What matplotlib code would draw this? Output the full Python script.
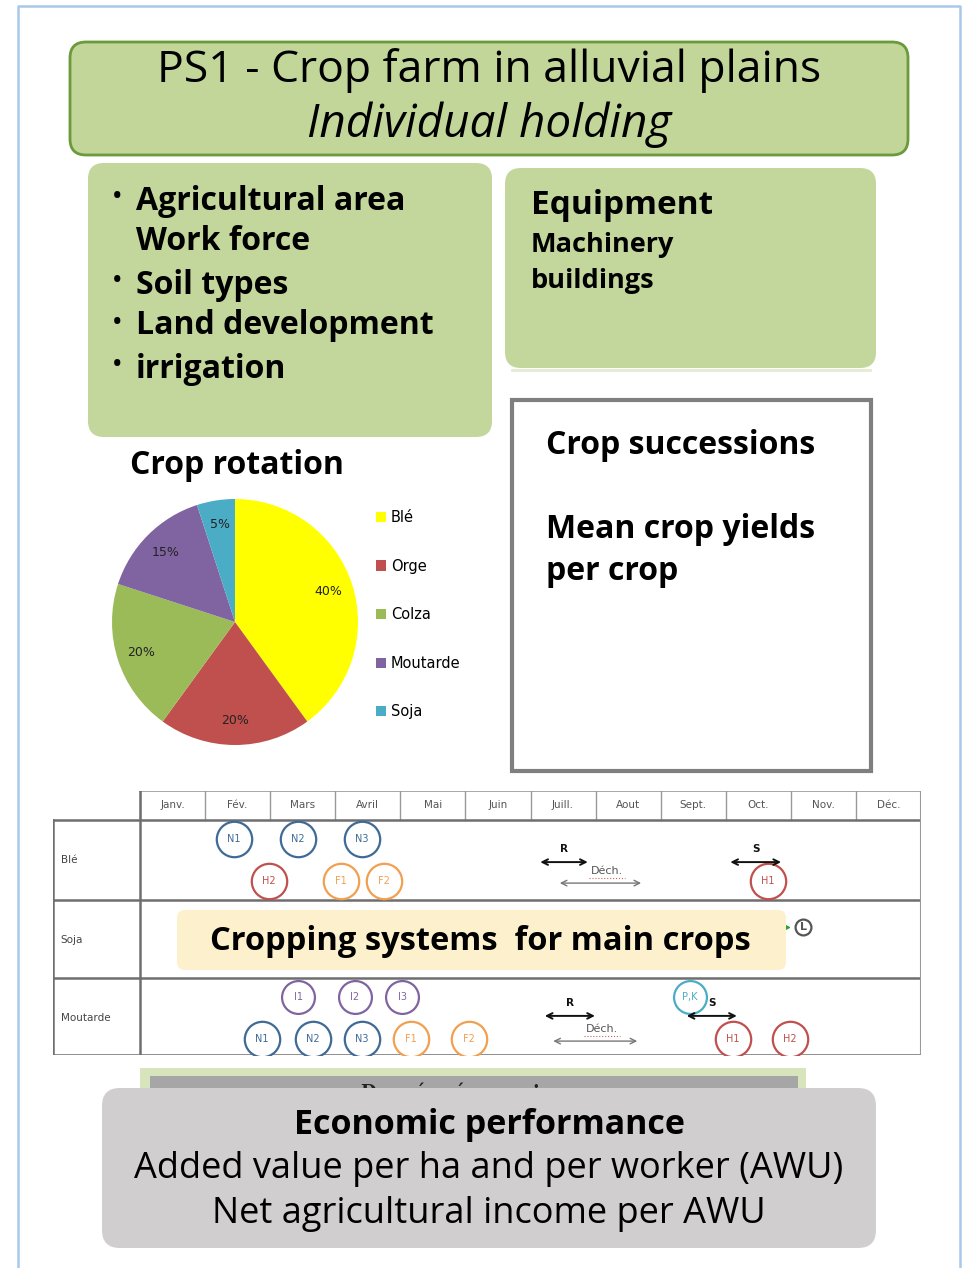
import matplotlib
matplotlib.use("Agg")
import matplotlib.pyplot as plt
from matplotlib.patches import FancyBboxPatch, Rectangle

# data
crops = ['Blé', 'Orge', 'Colza', 'Moutarde', 'Soja']
shares = [40, 20, 20, 15, 5]
crop_colors = ['#ffff00', '#c0504d', '#9bbb59', '#8064a2', '#4bacc6']

months = ['Janv.', 'Fév.', 'Mars', 'Avril', 'Mai', 'Juin',
          'Juill.', 'Aout', 'Sept.', 'Oct.', 'Nov.', 'Déc.']
cal_rows = ['Blé', 'Soja', 'Moutarde']

# operations: label, row, month position, level (0 = upper, 1 = lower), kind
ops_labels = ['N1', 'N2', 'N3', 'H2', 'F1', 'F2', 'H1',
              '', '', '', 'L',
              'I1', 'I2', 'I3', 'N1', 'N2', 'N3', 'F1', 'F2', 'P,K', 'H1', 'H2']
ops_rows = [0, 0, 0, 0, 0, 0, 0,
            1, 1, 1, 1,
            2, 2, 2, 2, 2, 2, 2, 2, 2, 2, 2]
ops_month = [1.44, 2.43, 3.41, 1.98, 3.09, 3.75, 9.65,
             3.30, 4.00, 4.61, 10.19,
             2.43, 3.30, 4.03, 1.87, 2.66, 3.41, 4.16, 5.06, 8.45, 9.11, 9.99]
ops_level = [0, 0, 0, 1, 1, 1, 1,
             0.55, 0.55, 0.55, 0.2,
             0, 0, 0, 1, 1, 1, 1, 1, 0, 1, 1]
ops_kind = ['N', 'N', 'N', 'H', 'F', 'F', 'H',
            'H', 'H', 'H', 'L',
            'I', 'I', 'I', 'N', 'N', 'N', 'F', 'F', 'PK', 'H', 'H']
kind_colors = {'N': '#3f6a96', 'H': '#c0504d', 'F': '#f0a050',
               'I': '#8064a2', 'PK': '#4bacc6', 'L': '#555555'}

# periods: label, row, start month, end month, level
per_labels = ['R', 'Déch.', 'S', 'R', 'Déch.', 'S']
per_rows = [0, 0, 0, 2, 2, 2]
per_start = [6.15, 6.45, 9.07, 6.22, 6.35, 8.40]
per_end = [6.88, 7.70, 9.85, 6.99, 7.64, 9.17]
per_level = [0.55, 1.05, 0.55, 0.45, 1.05, 0.45]

FONT = 'Open Sans'
W, H = 964, 1268
fig = plt.figure(figsize=(W / 100, H / 100), dpi=100)
fig.patch.set_facecolor('white')

ax = fig.add_axes([0, 0, 1, 1], zorder=3)
ax.set_xlim(0, W)
ax.set_ylim(H, 0)
ax.axis('off')
ax.patch.set_visible(False)

def rbox(x0, y0, x1, y1, fc, ec='none', r=14, lw=0, z=1):
    ax.add_patch(FancyBboxPatch((x0, y0), x1 - x0, y1 - y0,
                                boxstyle="round,pad=0,rounding_size=%d" % r,
                                fc=fc, ec=ec, lw=lw, zorder=z))

def txt(x, y, s, size, **kw):
    kw.setdefault('family', FONT)
    ax.text(x, y, s, fontsize=size, va='center', zorder=10, **kw)

# outer frame
ax.plot([18, 18, 960, 960], [1268, 6, 6, 1268], color='#a9c8ea', lw=1.8, zorder=0)

# title
rbox(70, 42, 908, 155, '#c2d69a', '#6b9a3a', r=16, lw=2)
txt(489, 71, 'PS1 - Crop farm in alluvial plains', 32, ha='center')
txt(489, 125, 'Individual holding', 33, ha='center', style='italic')

# left box
rbox(88, 163, 492, 437, '#c3d69b', r=16)
for yy, s, b in [(201, 'Agricultural area', True), (242, 'Work force', False),
                 (285, 'Soil types', True), (326, 'Land development', True),
                 (369, 'irrigation', True)]:
    if b:
        txt(113, yy - 3, '•', 16, weight='bold')
    txt(136, yy, s, 23, weight='bold')

# right box
rbox(505, 168, 876, 368, '#c3d69b', r=16)
ax.plot([512, 870], [370, 370], color='#e3ecd2', lw=2, zorder=1)
txt(531, 206, 'Equipment', 24, weight='bold')
txt(531, 245, 'Machinery', 19.5, weight='bold')
txt(531, 281, 'buildings', 19.5, weight='bold')

# crop successions
ax.add_patch(Rectangle((512, 400), 359, 371, fc='white', ec='#7f7f7f', lw=3, zorder=1))
txt(546, 445, 'Crop successions', 23, weight='bold')
txt(546, 529, 'Mean crop yields', 23, weight='bold')
txt(546, 571, 'per crop', 23, weight='bold')

# crop rotation pie
txt(130, 465, 'Crop rotation', 23, weight='bold')
cx, cy, rad = 235, 622, 123
axp = fig.add_axes([(cx - rad) / W, 1 - (cy + rad) / H, 2 * rad / W, 2 * rad / H], zorder=2)
wedges, _, autotexts = axp.pie(shares, colors=crop_colors, startangle=90, counterclock=False,
                               autopct='%d%%', pctdistance=0.8, radius=1,
                               textprops=dict(fontsize=9, family='DejaVu Sans', color='#222222'))
axp.set_xlim(-1, 1)
axp.set_ylim(-1, 1)
axp.set_aspect('equal')
leg = fig.legend(wedges, crops, loc='upper left', bbox_to_anchor=(363 / W, 1 - 497 / H),
                 frameon=False, labelspacing=2.3, handlelength=0.7,
                 handleheight=0.7, handletextpad=0.3, prop=dict(family='DejaVu Sans', size=10.5))

# calendar
x_left, x_m0, x_right = 53, 140, 921
y_top, y_head, y_bot = 791, 820, 1055
row_top = [820, 900, 978]
mw = (x_right - x_m0) / 12.0
axc = fig.add_axes([x_left / W, 1 - y_bot / H, (x_right - x_left) / W, (y_bot - y_top) / H], zorder=1)
axc.set_xlim(-(x_m0 - x_left) / mw, 12)
axc.set_ylim(y_bot, y_top)
axc.axis('off')
lc = '#6e6e6e'
axc.plot([0, 12], [y_top, y_top], color='#999999', lw=1.2)
for i in range(13):
    axc.plot([i, i], [y_top, y_head], color='#999999', lw=1.0)
for i, m in enumerate(months):
    axc.text(i + 0.5, (y_top + y_head) / 2, m, ha='center', va='center', fontsize=7.5,
             color='#555555', family='DejaVu Sans')
x0c = -(x_m0 - x_left) / mw
for yy in row_top + [y_bot]:
    axc.plot([x0c, 12], [yy, yy], color=lc, lw=1.8)
axc.plot([x0c, x0c], [y_head, y_bot], color=lc, lw=1.8)
axc.plot([0, 0], [y_top, y_bot], color=lc, lw=1.8)
axc.plot([12, 12], [y_top, y_bot], color='#999999', lw=1.5)
for r, name in enumerate(cal_rows):
    axc.text(x0c + 0.12, row_top[r] + 40, name, ha='left', va='center', fontsize=7.5,
             color='#444444', family='DejaVu Sans')

for lab, r, m, lev, k in zip(ops_labels, ops_rows, ops_month, ops_level, ops_kind):
    yy = row_top[r] + 19 + 42 * lev
    c = kind_colors[k]
    s = 130 if k == 'L' else (560 if k in ('I', 'PK') else 650)
    axc.scatter([m], [yy], s=s, facecolors='white', edgecolors=c, linewidths=1.6, zorder=3)
    if lab:
        axc.text(m, yy, lab, ha='center', va='center', fontsize=7 if k != 'L' else 8,
                 color=c, family='DejaVu Sans', zorder=4, weight='bold' if k == 'L' else 'normal')

for lab, r, a, b, lev in zip(per_labels, per_rows, per_start, per_end, per_level):
    yy = row_top[r] + 19 + 42 * lev
    grey = lab.startswith('D')
    c = '#777777' if grey else '#111111'
    axc.annotate('', xy=(b, yy), xytext=(a, yy),
                 arrowprops=dict(arrowstyle='<->', color=c, lw=1.0 if grey else 1.4,
                                 shrinkA=0, shrinkB=0))
    if grey:
        xm = (a + b) / 2 + 0.1
        axc.text(xm, yy - 12, lab, ha='center', va='center', fontsize=8,
                 color='#555555', family='DejaVu Sans')
        axc.plot([xm - 0.28, xm + 0.28], [yy - 5, yy - 5], color='#d06060', lw=0.8, ls=':')
    else:
        axc.text((a + b) / 2, yy - 13, lab, ha='center', va='center', fontsize=7.5,
                 color='#111111', family='DejaVu Sans', weight='bold')

axc.scatter([9.92], [927], s=18, marker='>', color='#2ca02c', zorder=3)

# cropping systems overlay
rbox(177, 910, 786, 970, '#fdf0cc', r=8, z=2)
txt(480, 941, 'Cropping systems  for main crops', 23.5, ha='center', weight='bold')

# economic block
ax.add_patch(Rectangle((140, 1068), 666, 30, fc='#d8e4bc', ec='none', zorder=1))
ax.add_patch(Rectangle((150, 1076), 648, 22, fc='#a6a6a6', ec='none', zorder=1))
ax.text(474, 1092, 'Données économiques', ha='center', va='center', fontsize=13,
        family='DejaVu Serif', color='#222222', zorder=1, weight='bold')
rbox(102, 1088, 876, 1248, '#d0cece', r=18, z=2)
txt(489, 1125, 'Economic performance', 24.5, ha='center', weight='bold')
txt(489, 1169, 'Added value per ha and per worker (AWU)', 26, ha='center')
txt(489, 1214, 'Net agricultural income per AWU', 26, ha='center')

fig.savefig('out.png', dpi=100, facecolor='white')
